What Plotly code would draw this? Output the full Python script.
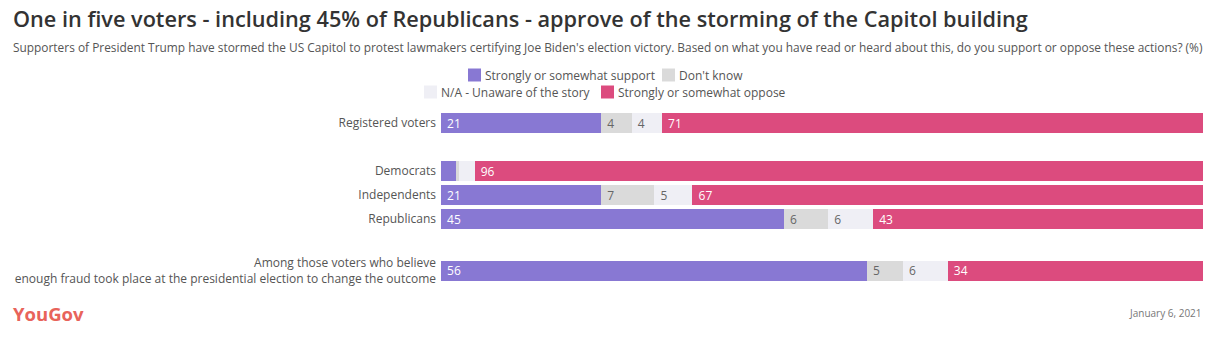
import plotly.graph_objects as go

categories = [
    "Registered voters",
    "Democrats",
    "Independents",
    "Republicans",
    "Among those voters who believe<br>enough fraud took place at the presidential election to change the outcome",
]
# shares (%)
support = [21, 2, 21, 45, 55.9]
dont_know = [4, 0.4, 7, 5.8, 4.7]
na_unaware = [4, 2, 5, 5.9, 5.9]
oppose = [71, 96, 67, 43.3, 33.5]

# printed value labels
support_labels = ["21", "", "21", "45", "56"]
dk_labels = ["4", "", "7", "6", "5"]
na_labels = ["4", "", "5", "6", "6"]
oppose_labels = ["71", "96", "67", "43", "34"]

series_names = [
    "Strongly or somewhat support",
    "Don't know",
    "N/A - Unaware of the story",
    "Strongly or somewhat oppose",
]

# layout positions of rows (gaps between groups)
row_pos = [0, 2, 3, 4, 6.15]

W, H = 1215, 340
ML, MR, MT, MB = 441, 12, 111, 57
PW, PH = W - ML - MR, H - MT - MB

FONT = "'Open Sans', Lato, sans-serif"
colors = ["#8878d3", "#dadada", "#efeff5", "#dc4b7e"]
text_colors = ["white", "#666666", "#666666", "white"]


def xc(px):
    return (px - ML) / PW


def yc(py):
    return (H - MB - py) / PH


fig = go.Figure()
for name, vals, labels, col, tcol in zip(
    series_names,
    [support, dont_know, na_unaware, oppose],
    [support_labels, dk_labels, na_labels, oppose_labels],
    colors, text_colors,
):
    fig.add_trace(go.Bar(
        y=row_pos, x=vals, orientation="h", name=name,
        marker=dict(color=col, line=dict(width=0)),
        text=labels, texttemplate="\u00a0%{text}",
        textposition="inside", insidetextanchor="start",
        textangle=0,
        textfont=dict(color=tcol, size=12, family=FONT),
        width=0.82, hoverinfo="x+name", showlegend=False,
        constraintext="none",
    ))

fig.update_layout(
    barmode="stack",
    width=W, height=H,
    margin=dict(l=ML, r=MR, t=MT, b=MB, autoexpand=False),
    paper_bgcolor="white", plot_bgcolor="white",
    font=dict(family=FONT, color="#555555"),
    showlegend=False,
    xaxis=dict(range=[0, 100], visible=False, fixedrange=True),
    yaxis=dict(range=[6.65, -0.5], tickvals=row_pos, ticktext=categories,
               showgrid=False, zeroline=False, showline=False, ticks="",
               tickfont=dict(size=12, color="#555555", family=FONT),
               ticklabelstandoff=4, fixedrange=True),
)

# manual legend (square + label), two centered rows
legend_items = [
    (468, 75, 0), (662, 75, 1),
    (424, 92, 2), (601, 92, 3),
]
for px, py, i in legend_items:
    fig.add_shape(type="rect", xref="paper", yref="paper",
                  x0=xc(px), x1=xc(px + 13), y0=yc(py - 6.5), y1=yc(py + 6.5),
                  fillcolor=colors[i], line=dict(width=0), layer="above")
    fig.add_annotation(text=series_names[i], xref="paper", yref="paper",
                       x=xc(px + 15), y=yc(py), xanchor="left", yanchor="middle",
                       showarrow=False, font=dict(size=12, color="#555555", family=FONT))

fig.add_annotation(
    text="One in five voters - including 45% of Republicans - approve of the storming of the Capitol building",
    xref="paper", yref="paper", x=xc(11), y=yc(19), xanchor="left", yanchor="middle",
    showarrow=False, font=dict(size=21.7, color="#333333", family=FONT, weight=600),
)
fig.add_annotation(
    text="Supporters of President Trump have stormed the US Capitol to protest lawmakers certifying Joe Biden's election victory. Based on what you have read or heard about this, do you support or oppose these actions? (%)",
    xref="paper", yref="paper", x=xc(11), y=yc(47), xanchor="left", yanchor="middle",
    showarrow=False, font=dict(size=11.9, color="#555555", family=FONT),
)
fig.add_annotation(
    text="<b>YouGov</b>",
    xref="paper", yref="paper", x=xc(11), y=yc(313), xanchor="left", yanchor="middle",
    showarrow=False, font=dict(size=18.5, color="#e8635a", family=FONT),
)
fig.add_annotation(
    text="January 6, 2021",
    xref="paper", yref="paper", x=xc(1204), y=yc(313), xanchor="right", yanchor="middle",
    showarrow=False, font=dict(size=10, color="#777777", family=FONT),
)

fig.write_html("out.html")
